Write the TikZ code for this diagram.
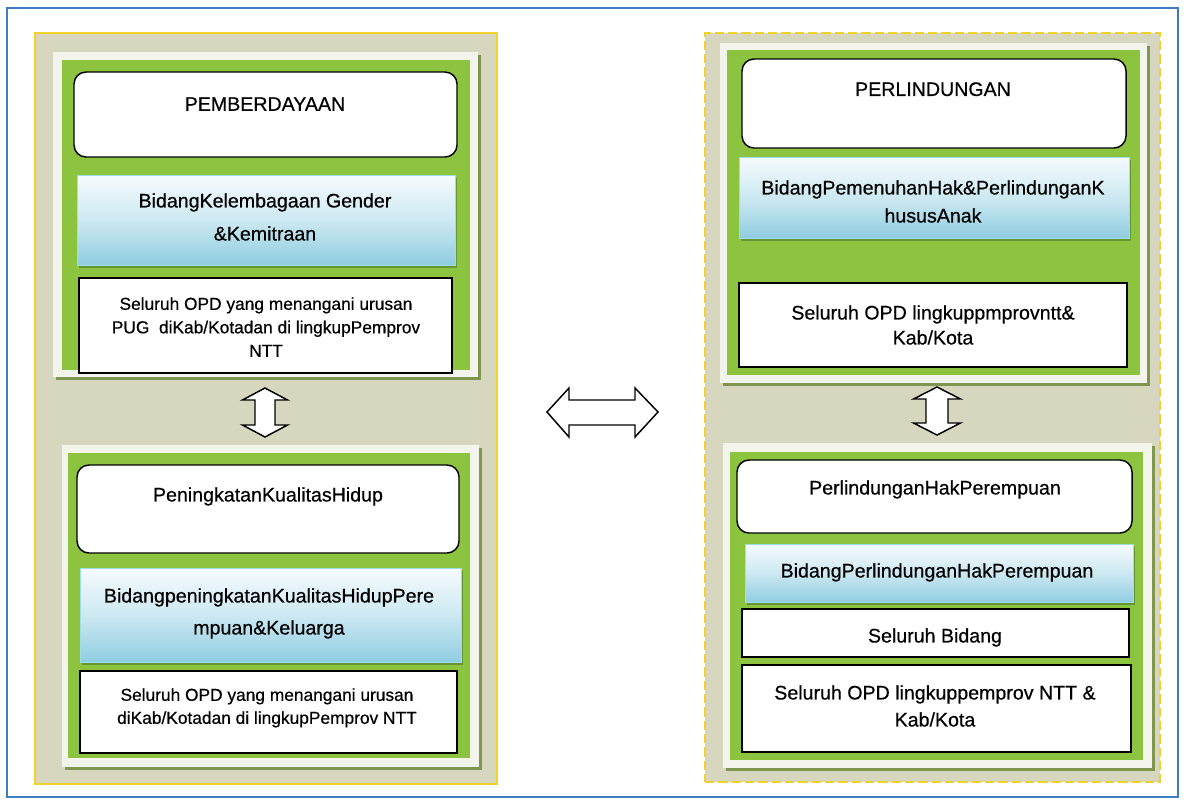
\documentclass[tikz,border=0pt]{standalone}
\usepackage{fontspec}
\setmainfont{Liberation Sans}[FakeBold=0.5]
\usetikzlibrary{fit,shadows}

\definecolor{frameblue}{HTML}{3C7DC4}
\definecolor{panelfill}{HTML}{D7D6BE}
\definecolor{panelline}{HTML}{F2D22A}
\definecolor{leaf}{HTML}{8DC43F}
\definecolor{rimwhite}{HTML}{F3F4EC}
\definecolor{rimshadow}{HTML}{7F9650}
\definecolor{skytop}{HTML}{F6FBFD}
\definecolor{skybot}{HTML}{8FCDE1}
\definecolor{skyedge}{HTML}{9EDDEB}
\definecolor{fieldshadow}{HTML}{5E8A30}

\begin{document}
\begin{tikzpicture}[x=0.75pt,y=-0.75pt,
  frame/.style={draw=frameblue, line width=1.1pt, inner sep=0pt},
  panel/.style={fill=panelfill, draw=panelline, line width=1.3pt, inner sep=0pt},
  rim/.style={fill=rimwhite, inner sep=0pt,
    drop shadow={shadow xshift=2.2pt, shadow yshift=-2.4pt, fill=rimshadow, opacity=1}},
  leafbox/.style={fill=leaf, inner sep=0pt},
  headbox/.style={draw=black, fill=white, line width=1.1pt, rounded corners=9pt, inner sep=0pt},
  fieldbox/.style={top color=skytop, bottom color=skybot, middle color=skytop!60!skybot,
    draw=skyedge, line width=0.5pt, inner sep=0pt,
    drop shadow={shadow xshift=1.5pt, shadow yshift=-2.5pt, fill=fieldshadow, opacity=0.8}},
  opdbox/.style={draw=black, fill=white, line width=1.1pt, inner sep=0pt},
  lbl/.style={anchor=north, inner sep=0pt, align=center, text=black},
  bigtext/.style={font=\fontsize{14.7}{#1}\selectfont},
  smalltext/.style={font=\fontsize{13}{#1}\selectfont},
  blockarrow/.style={draw=black, fill=white, line width=1.1pt, line join=miter}
]
\useasboundingbox (0,0) rectangle (1184,804);
\fill[white] (0,0) rectangle (1184,804);

% outer frame
\node[frame, fit={(7,8)(1178,797)}] (frame) {};

% the two panels
\node[panel, fit={(35,33)(497,784)}] (leftPanel) {};
\node[panel, dash pattern=on 7pt off 3pt, fit={(705,33)(1160,782)}] (rightPanel) {};

% ---------- left panel, upper group ----------
\node[rim, fit={(53,52)(478,377)}] (pemRim) {};
\node[leafbox, fit={(62,60)(470,370)}] (pemLeaf) {};
\node[headbox, fit={(74,72)(457,157)}] (pemHead) {};
\node[fieldbox, fit={(77,175)(455,265)}] (pemField) {};
\node[opdbox, fit={(79,278)(452,373)}] (pemOpd) {};
\node[lbl, bigtext=18] (pemHeadText) at (265,97) {PEMBERDAYAAN};
\node[lbl, bigtext=24.75] (pemFieldText) at (265,193) {BidangKelembagaan Gender\\\&Kemitraan};
\node[lbl, smalltext=17.6] (pemOpdText) at (266,297)
  {Seluruh OPD yang menangani urusan\\PUG\ \ diKab/Kotadan di lingkupPemprov\\NTT};

% ---------- left panel, lower group ----------
\node[rim, fit={(62,445)(479,767)}] (kualRim) {};
\node[leafbox, fit={(68,453)(470,758)}] (kualLeaf) {};
\node[headbox, fit={(77,465)(459,553)}] (kualHead) {};
\node[fieldbox, fit={(80,568)(461,662)}] (kualField) {};
\node[opdbox, fit={(80,671)(457,753)}] (kualOpd) {};
\node[lbl, bigtext=18] (kualHeadText) at (268,487) {PeningkatanKualitasHidup};
\node[lbl, bigtext=24] (kualFieldText) at (269,588) {BidangpeningkatanKualitasHidupPere\\mpuan\&Keluarga};
\node[lbl, smalltext=17.25] (kualOpdText) at (267,688)
  {Seluruh OPD yang menangani urusan\\diKab/Kotadan di lingkupPemprov NTT};

% ---------- right panel, upper group ----------
\node[rim, fit={(720,43)(1147,383)}] (lindRim) {};
\node[leafbox, fit={(727,50)(1140,375)}] (lindLeaf) {};
\node[headbox, fit={(742,59)(1126,148)}] (lindHead) {};
\node[fieldbox, fit={(739,157)(1129,238)}] (lindField) {};
\node[opdbox, fit={(739,283)(1127,367)}] (lindOpd) {};
\node[lbl, bigtext=18] (lindHeadText) at (933,82) {PERLINDUNGAN};
\node[lbl, bigtext=21] (lindFieldText) at (933,180) {BidangPemenuhanHak\&PerlindunganK\\hususAnak};
\node[lbl, bigtext=18.75] (lindOpdText) at (933,305) {Seluruh OPD lingkuppmprovntt\&\\Kab/Kota};

% ---------- right panel, lower group ----------
\node[rim, fit={(723,443)(1152,768)}] (hakRim) {};
\node[leafbox, fit={(730,452)(1143,760)}] (hakLeaf) {};
\node[headbox, fit={(737,460)(1132,533)}] (hakHead) {};
\node[fieldbox, fit={(745,544)(1133,602)}] (hakField) {};
\node[opdbox, fit={(742,609)(1129,657)}] (hakAll) {};
\node[opdbox, fit={(742,665)(1131,752)}] (hakOpd) {};
\node[lbl, bigtext=18] (hakHeadText) at (935,480) {PerlindunganHakPerempuan};
\node[lbl, bigtext=18] (hakFieldText) at (937,563) {BidangPerlindunganHakPerempuan};
\begin{scope}
  \clip (743,610) rectangle (1128,654);
  \node[lbl, bigtext=18] (hakAllText) at (935,628) {Seluruh Bidang};
\end{scope}
\node[lbl, bigtext=20.25] (hakOpdText) at (935,685) {Seluruh OPD lingkuppemprov NTT \&\\Kab/Kota};

% ---------- block arrows ----------
% between the two left groups
\draw[blockarrow] (265,388) -- (287.5,400) -- (275,400) -- (275,425) -- (287.5,425)
  -- (265,437) -- (242.5,425) -- (255,425) -- (255,400) -- (242.5,400) -- cycle;
% between the two right groups
\draw[blockarrow] (937,387) -- (960.5,399) -- (948,399) -- (948,423) -- (960.5,423)
  -- (937,435) -- (913.5,423) -- (926,423) -- (926,399) -- (913.5,399) -- cycle;
% between the two panels
\draw[blockarrow] (547,412) -- (569,388) -- (569,400) -- (635,400) -- (635,388)
  -- (658,412) -- (635,437) -- (635,425) -- (569,425) -- (569,437) -- cycle;
\end{tikzpicture}
\end{document}
